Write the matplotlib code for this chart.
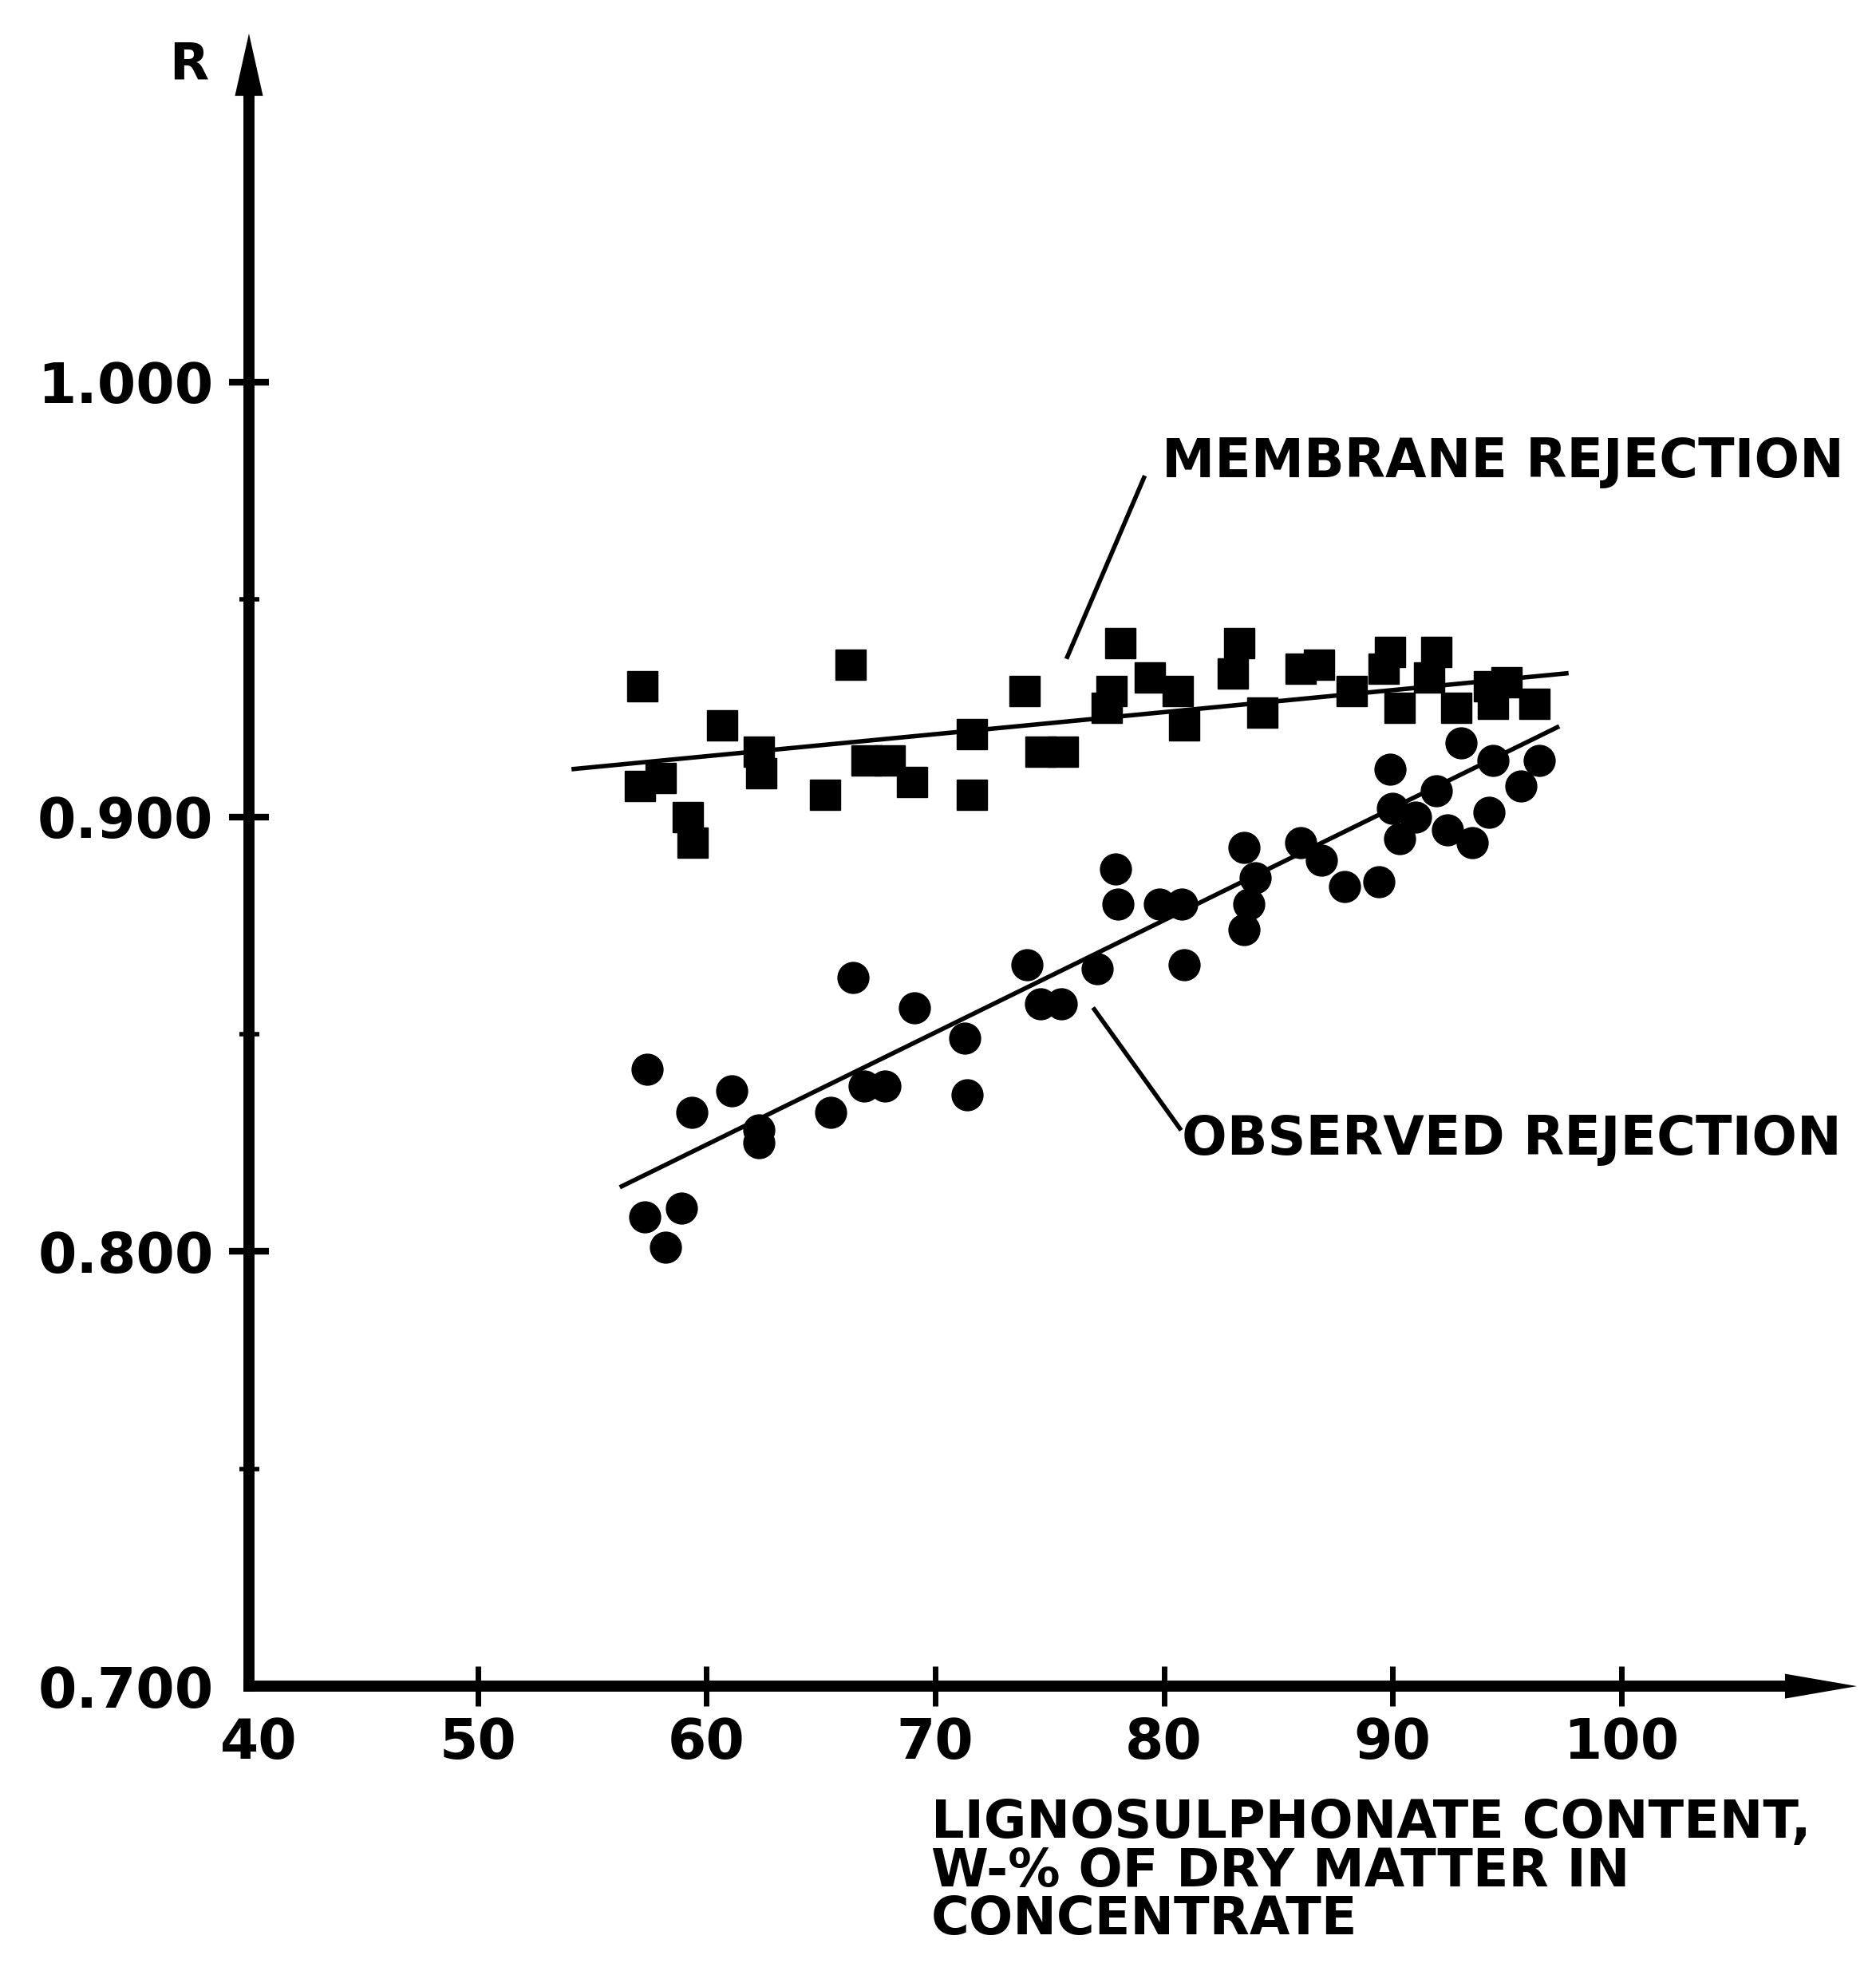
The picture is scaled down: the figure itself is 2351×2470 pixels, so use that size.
import numpy as np
import matplotlib
matplotlib.use("Agg")
import matplotlib.pyplot as plt
import matplotlib.transforms as mtransforms

plt.rcParams['font.family'] = ['DejaVu Sans']
plt.rcParams['font.weight'] = 'bold'

# membrane rejection (squares)
membrane_x = [57.2, 57.1, 58.0, 59.2, 59.4, 60.7, 62.3, 62.4, 65.2, 66.3,
              67.0, 68.0, 69.0, 71.6, 71.6, 73.9, 74.6, 75.6, 77.7, 77.5,
              78.1, 79.4, 80.6, 80.9, 83.3, 83.0, 84.3, 86.0, 86.8, 88.2,
              89.9, 89.6, 90.3, 91.9, 91.6, 92.8, 94.2, 94.4, 95.0, 96.2]
membrane_y = [0.930, 0.907, 0.909, 0.900, 0.894, 0.921, 0.915, 0.910, 0.905, 0.935,
              0.913, 0.913, 0.908, 0.919, 0.905, 0.929, 0.915, 0.915, 0.929, 0.925,
              0.940, 0.932, 0.929, 0.921, 0.940, 0.933, 0.924, 0.934, 0.935, 0.929,
              0.938, 0.934, 0.925, 0.938, 0.932, 0.925, 0.930, 0.926, 0.931, 0.926]

# observed rejection (circles)
observed_x = [57.4, 57.3, 58.2, 58.9, 59.35, 61.1, 62.3, 62.3, 65.45, 66.4,
              66.9, 67.8, 69.1, 71.3, 71.4, 74.0, 74.6, 75.5, 77.1, 77.9,
              78.0, 79.8, 80.8, 80.9, 83.5, 84.0, 83.7, 83.5, 86.0, 86.9,
              87.9, 89.4, 89.9, 90.0, 90.3, 91.0, 91.9, 92.4, 93.5, 94.2,
              93.0, 94.4, 95.6, 96.4]
observed_y = [0.842, 0.808, 0.801, 0.810, 0.832, 0.837, 0.828, 0.825, 0.832, 0.863,
              0.838, 0.838, 0.856, 0.849, 0.836, 0.866, 0.857, 0.857, 0.865, 0.888,
              0.880, 0.880, 0.880, 0.866, 0.893, 0.886, 0.880, 0.874, 0.894, 0.890,
              0.884, 0.885, 0.911, 0.902, 0.895, 0.900, 0.906, 0.897, 0.894, 0.901,
              0.917, 0.913, 0.907, 0.913]

# fitted lines (end points)
membrane_fit_x = [54.2, 97.6]
membrane_fit_y = [0.911, 0.933]
observed_fit_x = [56.3, 97.2]
observed_fit_y = [0.815, 0.9206]

x_ticks = [40, 50, 60, 70, 80, 90, 100]
y_ticks = [0.700, 0.800, 0.900, 1.000]
y_minor = [0.750, 0.850, 0.950]

fig = plt.figure(figsize=(23.51, 24.70), dpi=100)
ax = fig.add_axes([0.1327, 0.1445, 0.8571, 0.8385])
ax.set_xlim(40, 110.3)
ax.set_ylim(0.7, 1.0802)

for s in ['top', 'right']:
    ax.spines[s].set_visible(False)
for s in ['left', 'bottom']:
    ax.spines[s].set_linewidth(10)
    ax.spines[s].set_capstyle('projecting')
ax.spines['left'].set_bounds(0.7, 1.07)
ax.spines['bottom'].set_bounds(40, 108)

ax.plot(membrane_x, membrane_y, 's', color='black', ms=28, zorder=3)
ax.plot(observed_x, observed_y, 'o', color='black', ms=28, zorder=3)
ax.plot(membrane_fit_x, membrane_fit_y, '-', color='black', lw=4)
ax.plot(observed_fit_x, observed_fit_y, '-', color='black', lw=4)

ax.set_xticks(x_ticks)
ax.set_xticklabels([str(t) for t in x_ticks], fontsize=50, fontweight='bold')
ax.set_yticks(y_ticks)
ax.set_yticklabels(['%.3f' % t for t in y_ticks], fontsize=50, fontweight='bold')
ax.set_yticks(y_minor, minor=True)
ax.tick_params(axis='x', direction='inout', length=36, width=5, pad=9)
ax.tick_params(axis='y', which='major', direction='inout', length=36, width=6, pad=14)
ax.tick_params(axis='y', which='minor', direction='inout', length=18, width=4)
ax.xaxis.get_major_ticks()[0].tick1line.set_visible(False)
ax.yaxis.get_major_ticks()[0].tick1line.set_visible(False)

# "40" sits a little right of the corner
lab40 = ax.get_xticklabels()[0]
lab40.set_transform(lab40.get_transform() +
                    mtransforms.ScaledTranslation(0.12, 0, fig.dpi_scale_trans))

# axis arrow heads (axes fraction)
ax.fill([-0.0087, 0.0087, 0.0], [0.9623, 0.9623, 1.0], color='black',
        transform=ax.transAxes, clip_on=False, lw=0)
ax.fill([0.9553, 0.9553, 1.0], [-0.0075, 0.0075, 0.0], color='black',
        transform=ax.transAxes, clip_on=False, lw=0)

ax.text(-0.0372, 0.981, 'R', transform=ax.transAxes, fontsize=46,
        fontweight='bold', ha='center', va='center')

ax.set_xlabel('LIGNOSULPHONATE CONTENT,\nW-% OF DRY MATTER IN\nCONCENTRATE',
              fontsize=47, fontweight='bold', ha='left', va='top', linespacing=0.93)
ax.xaxis.set_label_coords(0.4243, -0.0676)

# labels with leader lines
ax.plot([79.13, 75.78], [0.978, 0.9368], '-', color='black', lw=4)
ax.text(79.9, 0.9816, 'MEMBRANE REJECTION', fontsize=48, fontweight='bold',
        ha='left', va='center')
ax.plot([76.96, 80.70], [0.8557, 0.8283], '-', color='black', lw=4)
ax.text(80.8, 0.8258, 'OBSERVED REJECTION', fontsize=48, fontweight='bold',
        ha='left', va='center')

fig.savefig('out.png', dpi=100, facecolor='white')
